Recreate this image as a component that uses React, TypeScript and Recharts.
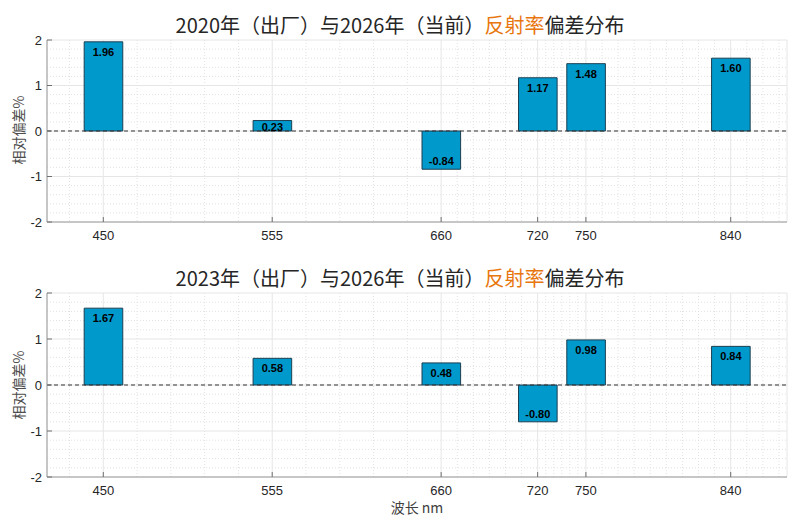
import React from 'react';
import { BarChart, Bar, XAxis, YAxis, CartesianGrid, ReferenceLine, LabelList } from 'recharts';

const wavelengths = [450, 555, 660, 720, 750, 840];
const dev2020 = [1.96, 0.23, -0.84, 1.17, 1.48, 1.6];
const dev2023 = [1.67, 0.58, 0.48, -0.8, 0.98, 0.84];
const yTicks = [-2, -1, 0, 1, 2];
const xMinorGrid = [429, 471, 492, 513, 534, 576, 597, 618, 639, 670, 680, 690, 700, 710, 725, 730, 735, 740, 745, 760, 770, 780, 790, 800, 810, 820, 830, 850, 860, 870];
const yMinorGrid = [-1.8, -1.6, -1.4, -1.2, -0.8, -0.6, -0.4, -0.2, 0.2, 0.4, 0.6, 0.8, 1.2, 1.4, 1.6, 1.8];
const xDomain = [415, 875];
const yDomain = [-2, 2];

const titlePrefix1 = '2020年（出厂）与2026年（当前）';
const titlePrefix2 = '2023年（出厂）与2026年（当前）';
const titleHighlight = '反射率';
const titleSuffix = '偏差分布';
const yLabel = '相对偏差%';
const xLabel = '波长 nm';

const data1 = wavelengths.map((wl, i) => ({ wl, v: dev2020[i] }));
const data2 = wavelengths.map((wl, i) => ({ wl, v: dev2023[i] }));

const AXIS = '#9a9a9a';
const TXT = '#262626';
const FONT = '"Liberation Sans", Arial, sans-serif';
const CJK = '"Noto Sans CJK SC", "Noto Sans", sans-serif';

const XTick = (props: any) => {
  const { x, y, payload } = props;
  return (
    <g>
      <line x1={x} x2={x} y1={y} y2={y - 5} stroke="#707070" strokeWidth={1} />
      <text x={x} y={y + 18} textAnchor="middle" fontSize={13} fill={TXT} fontFamily={FONT}>
        {payload.value}
      </text>
    </g>
  );
};

const YTick = (props: any) => {
  const { x, y, payload } = props;
  return (
    <g>
      <line x1={x} x2={x + 5} y1={y} y2={y} stroke="#707070" strokeWidth={1} />
      <text x={x - 5} y={y} textAnchor="end" dominantBaseline="central" fontSize={13} fill={TXT} fontFamily={FONT}>
        {payload.value}
      </text>
    </g>
  );
};

const BarLabel = (props: any) => {
  const { x, y, width, height, value } = props;
  const top = Math.min(y, y + height);
  const bottom = Math.max(y, y + height);
  const h = bottom - top;
  const ty = value >= 0 ? Math.min(top + 10, top + h / 2 + 1) : bottom - 8;
  return (
    <text
      x={x + width / 2}
      y={ty}
      textAnchor="middle"
      dominantBaseline="central"
      fontSize={11}
      fontWeight="bold"
      fill="#000"
      fontFamily={FONT}
    >
      {Number(value).toFixed(2)}
    </text>
  );
};

const Panel = ({ data, height, top, bottom }: { data: any[]; height: number; top: number; bottom: number }) => (
  <BarChart width={800} height={height} data={data} margin={{ top, right: 13, bottom, left: 0 }}>
    <CartesianGrid
      horizontalValues={yMinorGrid}
      verticalValues={xMinorGrid}
      stroke="#e2e2e2"
      strokeDasharray="1 2"
    />
    <CartesianGrid stroke="#e6e6e6" />
    <XAxis
      dataKey="wl"
      type="number"
      domain={xDomain}
      ticks={wavelengths}
      interval={0}
      allowDataOverflow
      height={30}
      tickSize={0}
      tickMargin={0}
      tick={<XTick />}
      axisLine={{ stroke: AXIS }}
      tickLine={false}
    />
    <YAxis
      type="number"
      domain={yDomain}
      ticks={yTicks}
      interval={0}
      allowDataOverflow
      width={47}
      tickSize={0}
      tickMargin={0}
      tick={<YTick />}
      axisLine={{ stroke: AXIS }}
      tickLine={false}
    />
    <Bar dataKey="v" fill="#0099CC" stroke="#1c3f52" strokeWidth={1} barSize={38.6} isAnimationActive={false}>
      <LabelList dataKey="v" content={<BarLabel />} />
    </Bar>
    <ReferenceLine y={0} stroke="#333" strokeDasharray="4 3" strokeWidth={1.2} />
  </BarChart>
);

const Title = ({ prefix, top }: { prefix: string; top: number }) => (
  <div
    style={{
      position: 'absolute',
      left: 0,
      top,
      width: 800,
      textAlign: 'center',
      fontFamily: CJK,
      fontSize: 20,
      lineHeight: '20px',
      color: TXT,
      whiteSpace: 'nowrap',
    }}
  >
    {prefix}
    <span style={{ color: '#E8760E' }}>{titleHighlight}</span>
    {titleSuffix}
  </div>
);

export default function App() {
  return (
    <div style={{ position: 'absolute', left: 0, top: 0, width: 800, height: 525, background: '#fff', overflow: 'hidden' }}>
      <div style={{ position: 'absolute', left: 0, top: 0 }}>
        <Panel data={data1} height={262} top={40} bottom={10} />
      </div>
      <div style={{ position: 'absolute', left: 0, top: 262 }}>
        <Panel data={data2} height={263} top={31} bottom={18} />
      </div>
      <Title prefix={titlePrefix1} top={15} />
      <Title prefix={titlePrefix2} top={268} />
      <svg width={800} height={525} style={{ position: 'absolute', left: 0, top: 0, pointerEvents: 'none' }}>
        <text x={18} y={130} transform="rotate(-90 18 130)" textAnchor="middle" dominantBaseline="central" fontSize={14} fill="#4d4d4d" fontFamily={CJK}>
          {yLabel}
        </text>
        <text x={18} y={385} transform="rotate(-90 18 385)" textAnchor="middle" dominantBaseline="central" fontSize={14} fill="#4d4d4d" fontFamily={CJK}>
          {yLabel}
        </text>
        <text x={417} y={507} textAnchor="middle" dominantBaseline="central" fontSize={14} fill="#404040" fontFamily={CJK}>
          {xLabel}
        </text>
      </svg>
    </div>
  );
}
